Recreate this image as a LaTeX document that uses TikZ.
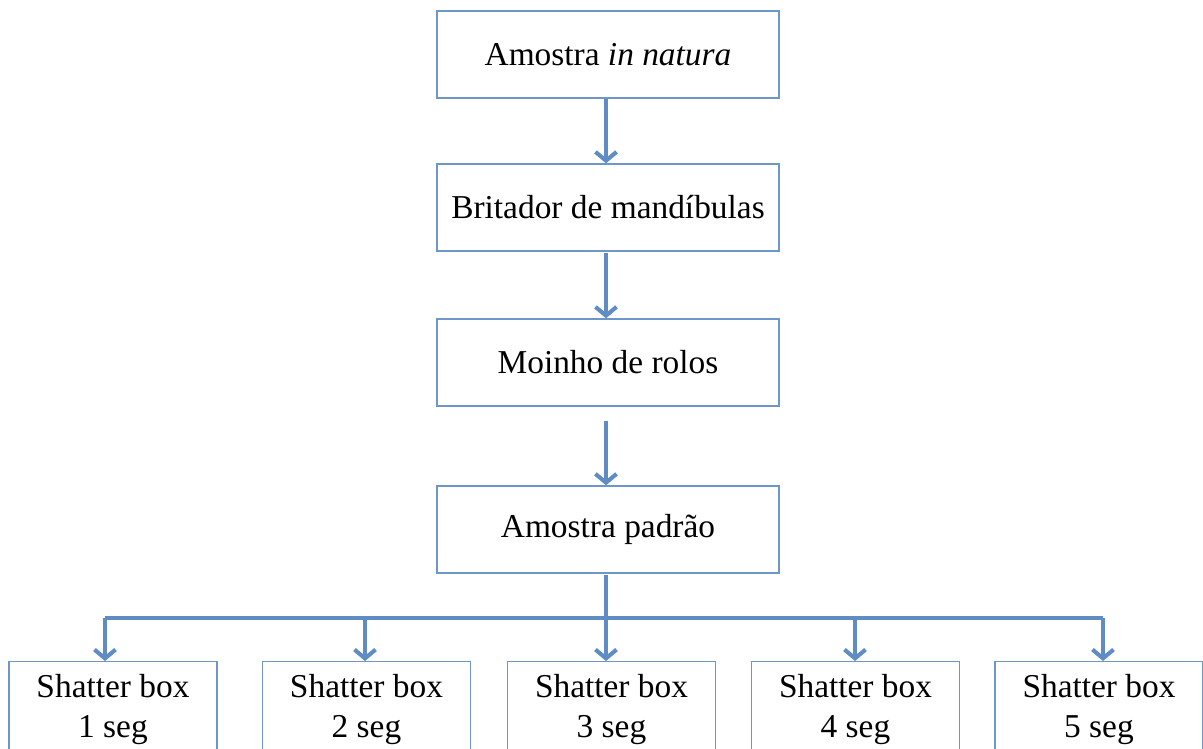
\documentclass[tikz,border=0pt]{standalone}
\usepackage{fontspec}
\setmainfont{Liberation Serif}
\usepackage{tikz}
\usetikzlibrary{arrows.meta, positioning}
\definecolor{caixa}{RGB}{110,150,200}
\definecolor{seta}{RGB}{95,140,195}

\begin{document}
\begin{tikzpicture}[
    every node/.style={font=\fontsize{19}{23}\selectfont},
    etapa/.style={draw=caixa, line width=0.8pt, fill=white, minimum width=6.84cm, minimum height=1.74cm},
    ensaio/.style={draw=caixa, line width=0.8pt, fill=white, minimum width=4.16cm, minimum height=1.92cm, align=center},
    fluxo/.style={draw=seta, line width=2.3pt, -{Straight Barb[length=5pt, width=12pt, line width=2.3pt]}},
    linha/.style={draw=seta, line width=2.3pt}]
  \clip (0,0) rectangle (24.06,-14.98);
  \useasboundingbox (0,0) rectangle (24.06,-14.98);

  \node[etapa] (nat) at (12.16,-1.09) {Amostra \textit{in natura}};
  \node[etapa] (brit) at (12.16,-4.15) {Britador de mandíbulas};
  \node[etapa] (moinho) at (12.16,-7.25) {Moinho de rolos};
  \node[etapa] (pad) at (12.16,-10.59) {Amostra padrão};

  \node[ensaio, anchor=north] (sb1) at (2.26,-13.22) {Shatter box\\1 seg};
  \node[ensaio, anchor=north] (sb2) at (7.33,-13.22) {Shatter box\\2 seg};
  \node[ensaio, anchor=north] (sb3) at (12.23,-13.22) {Shatter box\\3 seg};
  \node[ensaio, anchor=north] (sb4) at (17.11,-13.22) {Shatter box\\4 seg};
  \node[ensaio, anchor=north] (sb5) at (21.98,-13.22) {Shatter box\\5 seg};

  % barramento horizontal
  \coordinate (busL) at (2.10,-12.36);
  \coordinate (bus2) at (7.30,-12.36);
  \coordinate (bus3) at (12.12,-12.36);
  \coordinate (bus4) at (17.10,-12.36);
  \coordinate (busR) at (22.06,-12.36);

  \draw[fluxo] (nat.south -| bus3) -- (brit.north -| bus3);
  \draw[fluxo] ([yshift=-1pt]brit.south -| bus3) -- (moinho.north -| bus3);
  \draw[fluxo, shorten <=0.28cm] (moinho.south -| bus3) -- (pad.north -| bus3);
  \draw[linha] ([yshift=-1pt]pad.south -| bus3) -- (bus3);
  \draw[linha] (busL) -- (busR);

  \draw[fluxo] (busL) -- (sb1.north -| busL);
  \draw[fluxo] (bus2) -- (sb2.north -| bus2);
  \draw[fluxo] (bus3) -- (sb3.north -| bus3);
  \draw[fluxo] (bus4) -- (sb4.north -| bus4);
  \draw[fluxo] (busR) -- (sb5.north -| busR);
\end{tikzpicture}
\end{document}
